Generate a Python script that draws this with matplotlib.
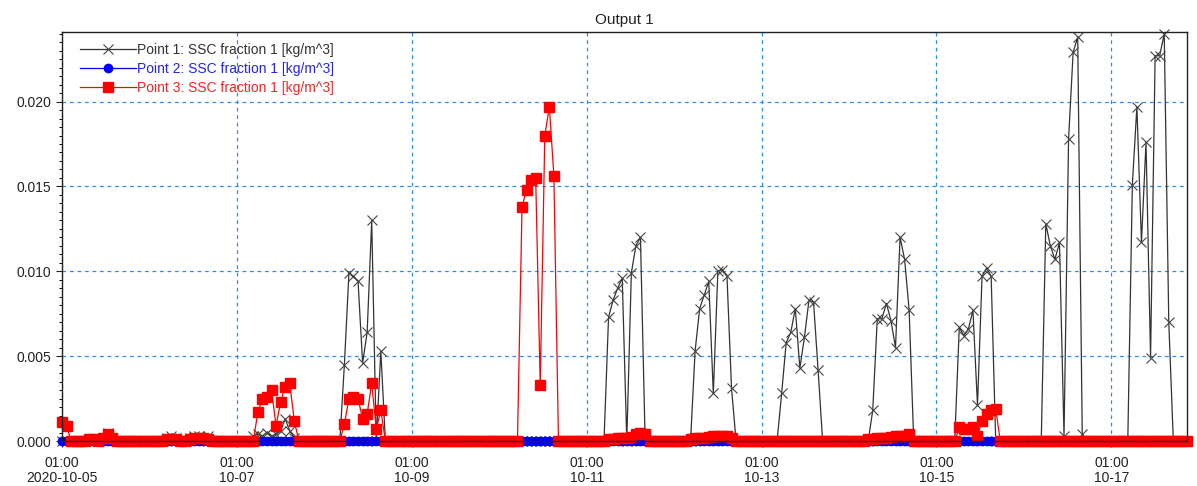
import matplotlib
matplotlib.use('Agg')
import matplotlib.pyplot as plt
import matplotlib.dates as mdates
from matplotlib.ticker import MultipleLocator, FormatStrFormatter
import numpy as np
import pandas as pd

plt.rcParams['font.family'] = ['Liberation Sans', 'DejaVu Sans']

# time axis: 75 min output step starting 2020-10-05 01:00
start_time = '2020-10-05 01:00'
n_steps = 248
time_step = '75min'

labels = ['Point 1: SSC fraction 1 [kg/m^3]',
          'Point 2: SSC fraction 1 [kg/m^3]',
          'Point 3: SSC fraction 1 [kg/m^3]']

# (first step index, values) for each burst, everything else is 0
p1_runs = [
    (9, [0.0002, 0.0005, 0.0002]),
    (23, [0.0002, 0.0003, 0.0002, 0, 0, 0.0002, 0.0003, 0.0003, 0.0002, 0.0003]),
    (42, [0.0003, 0.0004, 0.0003, 0.0005, 0.0003, 0.0004, 0.0006, 0.0013, 0.0006, 0.0002]),
    (62, [0.0045, 0.0099, 0.0097, 0.0094, 0.0046, 0.0064, 0.0130, 0, 0.0053]),
    (120, [0.0073, 0.0083, 0.0090, 0.0096, 0, 0.0099, 0.0115, 0.0120, 0.0004]),
    (139, [0.0053, 0.0078, 0.0086, 0.0094, 0.0028, 0.0100, 0.0101, 0.0097, 0.0031]),
    (158, [0.0028, 0.0058, 0.0064, 0.0078, 0.0043, 0.0061, 0.0083, 0.0082, 0.0042]),
    (178, [0.0018, 0.0072, 0.0072, 0.0081, 0.0071, 0.0055, 0.0120, 0.0107, 0.0077]),
    (197, [0.0067, 0.0062, 0.0066, 0.0077, 0.0021, 0.0097, 0.0102, 0.0097]),
    (216, [0.0128, 0.0115, 0.0107, 0.0117, 0.0003, 0.0178, 0.0229, 0.0238, 0.0004]),
    (235, [0.0151, 0.0197, 0.0117, 0.0176, 0.0049, 0.0227, 0.0227, 0.0240, 0.0070]),
]
p2_runs = []
p3_runs = [
    (0, [0.0011, 0.0009]),
    (6, [0.0001, 0.0001]),
    (9, [0.0002, 0.0004, 0.0002]),
    (23, [0.0001, 0.0001, 0.0001, 0, 0, 0.0001, 0.0002, 0.0002, 0.0002, 0.0001]),
    (43, [0.0017, 0.0025, 0.0026, 0.0030, 0.0009, 0.0023, 0.0032, 0.0034, 0.0012]),
    (62, [0.0010, 0.0025, 0.0026, 0.0025, 0.0013, 0.0016, 0.0034, 0.0007, 0.0018]),
    (101, [0.0138, 0.0148, 0.0154, 0.0155, 0.0033, 0.0180, 0.0197, 0.0156]),
    (120, [0.0001, 0.0001, 0.00015, 0.0002, 0.0002, 0.00025, 0.0004, 0.0005, 0.0004]),
    (138, [0.0001, 0.00015, 0.0002, 0.0002, 0.00025, 0.0003, 0.0003, 0.0003, 0.0003, 0.0002]),
    (177, [0.0001, 0.0001, 0.00015, 0.0002, 0.0002, 0.00025, 0.0003, 0.0003, 0.0003, 0.0004]),
    (197, [0.0008, 0.0007, 0.0007, 0.0008, 0.0003, 0.0012, 0.0016, 0.0018, 0.0019]),
]


def build(runs):
    v = np.zeros(n_steps)
    for i0, vals in runs:
        v[i0:i0 + len(vals)] = vals
    return v


times = pd.date_range(start_time, periods=n_steps, freq=time_step)
p1 = build(p1_runs)
p2 = build(p2_runs)
p3 = build(p3_runs)

fig = plt.figure(figsize=(11.97, 4.86), dpi=100)
ax = fig.add_axes([62 / 1197, 45 / 486, 1125 / 1197, 409 / 486])

ax.plot(times, p1, color='#333333', lw=0.9, marker='x', ms=7, mew=0.8,
        mec='#444444', clip_on=False, label=labels[0])
ax.plot(times, p2, color='#0000ff', lw=0.9, marker='o', ms=6,
        clip_on=False, label=labels[1])
ax.plot(times, p3, color='#ff0000', lw=0.9, marker='s', ms=7,
        clip_on=False, label=labels[2])

ax.set_xlim(times[0], times[-1])
ax.set_ylim(0, 0.0241)

major = pd.date_range(start_time, '2020-10-17 01:00', freq='2D')
ticklabels = [d.strftime('%H:%M\n%Y-%m-%d') if i == 0 else d.strftime('%H:%M\n%m-%d')
              for i, d in enumerate(major)]
ax.set_xticks(major)
ax.set_xticklabels(ticklabels, linespacing=1.1)
ax.xaxis.set_minor_locator(mdates.HourLocator(byhour=[1, 5, 9, 13, 17, 21]))

ax.yaxis.set_major_locator(MultipleLocator(0.005))
ax.yaxis.set_minor_locator(MultipleLocator(0.0005))
ax.yaxis.set_major_formatter(FormatStrFormatter('%.3f'))

ax.tick_params(which='major', direction='out', length=4.5, width=0.8,
               labelsize=10, colors='#222222')
ax.tick_params(axis='x', which='major', pad=6)
ax.tick_params(axis='y', which='major', pad=3)
ax.tick_params(which='minor', direction='out', length=2.5, width=0.7)

ax.grid(which='major', color='#2a8cff', linestyle=(0, (3, 3)), lw=0.9)
for s in ax.spines.values():
    s.set_color('#222222')
    s.set_linewidth(1.0)

ax.set_title('Output 1', fontsize=11, pad=6, color='#222222')

ax.legend(loc='upper left', bbox_to_anchor=(18 / 1125, 1 - 11 / 409),
          borderaxespad=0, borderpad=0, frameon=False, fontsize=10,
          handlelength=4.0, handletextpad=0.1, labelspacing=0.35,
          numpoints=1, labelcolor=['#333333', '#2222ff', '#ff2222'])

fig.savefig('out.png', dpi=100, facecolor='white')
